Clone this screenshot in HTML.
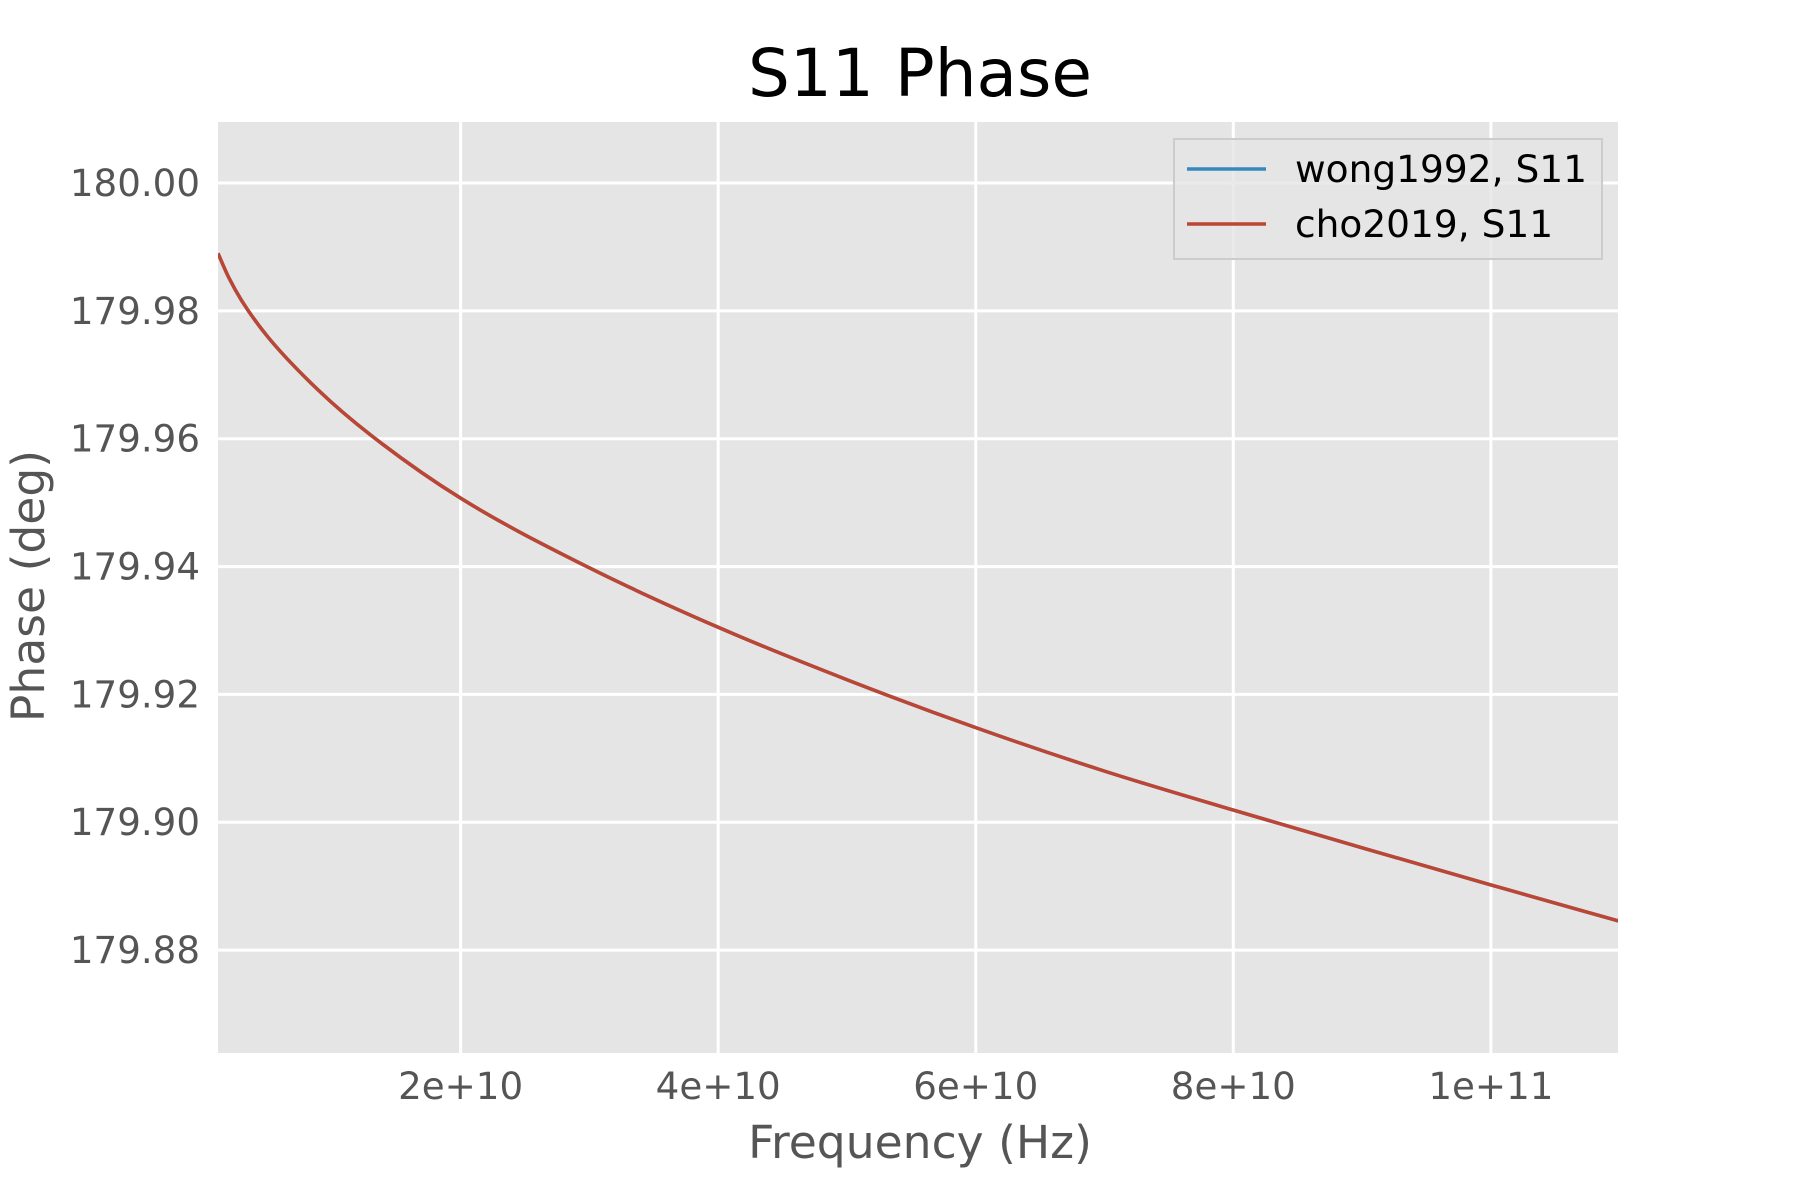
<!DOCTYPE html>
<html><head><meta charset="utf-8"><style>
html,body{margin:0;padding:0;background:#fff;}
svg{display:block;font-family:"DejaVu Sans","Liberation Sans",sans-serif;}
</style></head><body>
<svg id="chart" width="1800" height="1200" viewBox="0 0 1800 1200">
<text x="920" y="96" text-anchor="middle" font-size="66" fill="#000">S11 Phase</text>
<rect x="218" y="122" width="1400" height="931" fill="#E5E5E5"/>
<g id="grid"></g>
<g id="xticks"></g>
<g id="yticks"></g>
<clipPath id="clip"><rect x="218" y="122" width="1400" height="931"/></clipPath>
<g id="series" clip-path="url(#clip)"></g>
<text x="920" y="1158" text-anchor="middle" font-size="45.6" fill="#555">Frequency (Hz)</text>
<text transform="translate(44,586) rotate(-90)" text-anchor="middle" font-size="45.6" fill="#555">Phase (deg)</text>
<g>
<rect x="1174" y="139" width="428" height="120" fill="#E5E5E5" fill-opacity="0.8" stroke="#cccccc" stroke-width="2"/>
<line x1="1187" y1="169" x2="1266" y2="169" stroke="#348ABD" stroke-width="3.5"/>
<text x="1295" y="182" font-size="37.5" fill="#000">wong1992, S11</text>
<line x1="1187" y1="224" x2="1266" y2="224" stroke="#BC4533" stroke-width="3.5"/>
<text x="1295" y="237" font-size="37.5" fill="#000">cho2019, S11</text>
</g>
</svg>
<script>
const xTicks = [2e10, 4e10, 6e10, 8e10, 1e11];
const xTickLabels = ["2e+10", "4e+10", "6e+10", "8e+10", "1e+11"];
const yTicks = [180.00, 179.98, 179.96, 179.94, 179.92, 179.90, 179.88];
const yTickLabels = ["180.00", "179.98", "179.96", "179.94", "179.92", "179.90", "179.88"];
const freqs = [1.16e9, 2e9, 3e9, 5e9, 9e9, 1.3e10, 2e10, 3e10, 4e10, 5e10, 6e10, 7e10, 8e10, 9e10, 1e11, 1.1e11];
const wong1992 = [179.9890, 179.9852, 179.9816, 179.9760, 179.9675, 179.9606, 179.9507, 179.9398, 179.9305, 179.9223, 179.9148, 179.9080, 179.9019, 179.8960, 179.8902, 179.8845];
const cho2019 = [179.9890, 179.9852, 179.9816, 179.9760, 179.9675, 179.9606, 179.9507, 179.9398, 179.9305, 179.9223, 179.9148, 179.9080, 179.9019, 179.8960, 179.8902, 179.8845];

const PL = 218, PR = 1618, PT = 122, PB = 1053;
const XMIN = 1.16e9, XMAX = 1.0987e11, YMIN = 179.8639, YMAX = 180.00955;
function xs(v){ return PL + (v - XMIN) / (XMAX - XMIN) * (PR - PL); }
function ys(v){ return PB - (v - YMIN) / (YMAX - YMIN) * (PB - PT); }
const NS = "http://www.w3.org/2000/svg";
function mk(tag, attrs, parent){ const e = document.createElementNS(NS, tag); for (const k in attrs) e.setAttribute(k, attrs[k]); parent.appendChild(e); return e; }
const grid = document.getElementById('grid');
const xt = document.getElementById('xticks');
const yt = document.getElementById('yticks');
xTicks.forEach((v, i) => {
  const l = mk('line', {x1: xs(v), x2: xs(v), y1: PT, y2: PB, stroke: '#fff', 'stroke-width': 3}, grid);
  
  
  const t = mk('text', {x: xs(v), y: 1099, 'text-anchor': 'middle', 'font-size': 37.2, fill: '#555'}, xt);
  t.textContent = xTickLabels[i];
  
  
});
yTicks.forEach((v, i) => {
  const l = mk('line', {x1: PL, x2: PR, y1: ys(v), y2: ys(v), stroke: '#fff', 'stroke-width': 3}, grid);
  
  
  const t = mk('text', {x: 200, y: ys(v) + 13, 'text-anchor': 'end', 'font-size': 37.2, fill: '#555'}, yt);
  t.textContent = yTickLabels[i];
  
  
});
function pathFor(vals){
  const X = freqs.map(xs), Y = vals.map(ys), n = X.length;
  const d = [], m = new Array(n);
  for (let i = 0; i < n - 1; i++) d.push((Y[i+1] - Y[i]) / (X[i+1] - X[i]));
  m[0] = d[0]; m[n-1] = d[n-2];
  for (let i = 1; i < n - 1; i++) m[i] = (d[i-1] * d[i] <= 0) ? 0 : (d[i-1] + d[i]) / 2;
  for (let i = 0; i < n - 1; i++) {
    if (d[i] === 0) { m[i] = 0; m[i+1] = 0; continue; }
    const a = m[i] / d[i], b = m[i+1] / d[i], s = a*a + b*b;
    if (s > 9) { const t = 3 / Math.sqrt(s); m[i] = t*a*d[i]; m[i+1] = t*b*d[i]; }
  }
  let p = 'M' + X[0] + ',' + Y[0];
  for (let i = 0; i < n - 1; i++) {
    const h = (X[i+1] - X[i]) / 3;
    p += ' C' + (X[i] + h) + ',' + (Y[i] + m[i]*h) + ' ' + (X[i+1] - h) + ',' + (Y[i+1] - m[i+1]*h) + ' ' + X[i+1] + ',' + Y[i+1];
  }
  return p;
}
const series = document.getElementById('series');
const pw = mk('path', {d: pathFor(wong1992), fill: 'none', stroke: '#348ABD', 'stroke-width': 3.5}, series);


const pc = mk('path', {d: pathFor(cho2019), fill: 'none', stroke: '#BC4533', 'stroke-width': 3.5}, series);


</script>
</body></html>
